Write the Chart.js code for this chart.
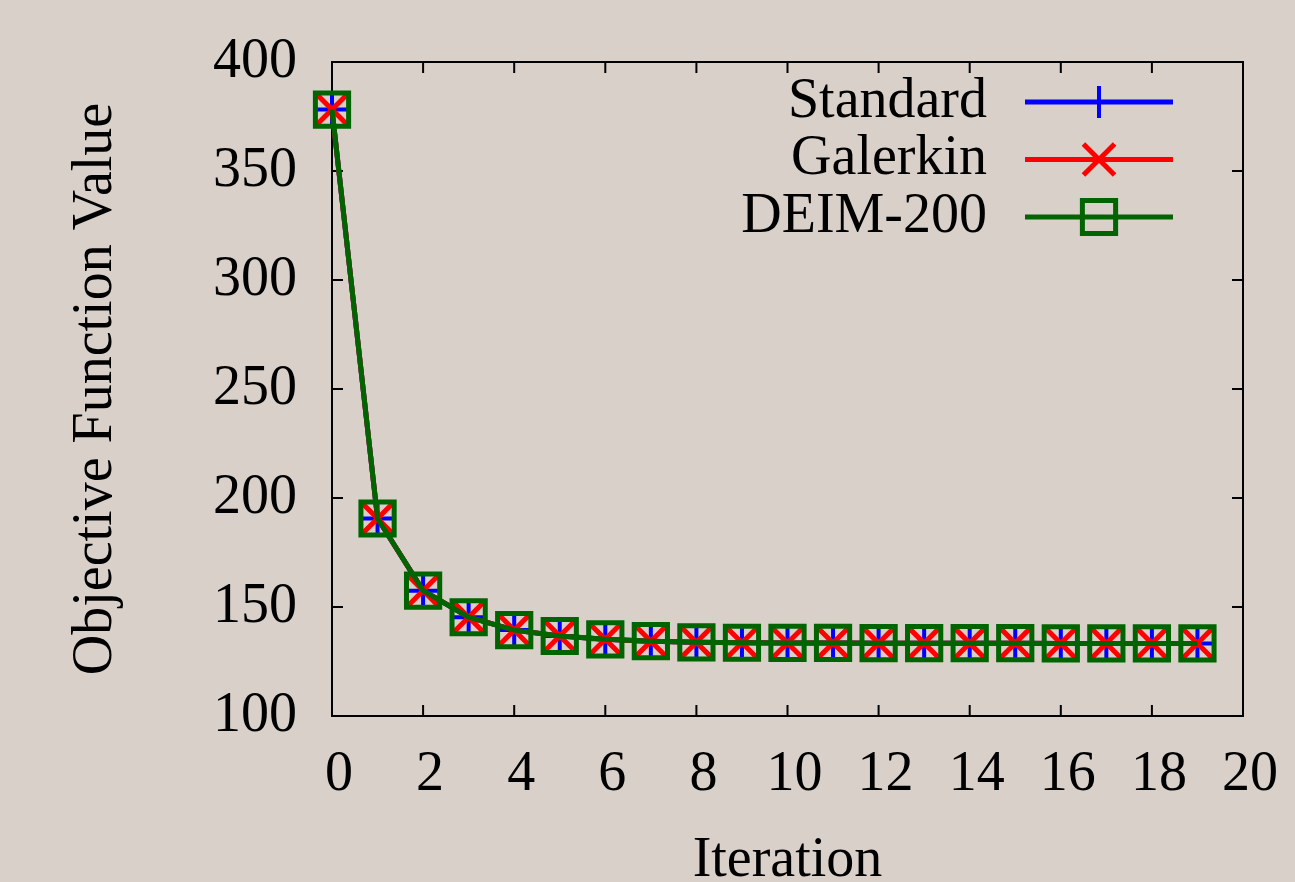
<!DOCTYPE html>
<html>
<head>
<meta charset="utf-8">
<script src="https://cdn.jsdelivr.net/npm/chart.js"></script>
<style>
  html, body { margin: 0; padding: 0; background: #d9d0ca; }
  #wrap { width: 1295px; height: 882px; position: relative; }
</style>
</head>
<body>
<div id="wrap"><canvas id="chart"></canvas></div>
<script>
const iterations = [0, 1, 2, 3, 4, 5, 6, 7, 8, 9, 10, 11, 12, 13, 14, 15, 16, 17, 18, 19];
const standardValues = [378.2, 190.6, 157.5, 145.3, 139.4, 136.7, 135.2, 134.3, 133.8, 133.6, 133.5, 133.5, 133.4, 133.4, 133.4, 133.4, 133.3, 133.3, 133.3, 133.3];
const galerkinValues = [378.2, 190.6, 157.5, 145.3, 139.4, 136.7, 135.2, 134.3, 133.8, 133.6, 133.5, 133.5, 133.4, 133.4, 133.4, 133.4, 133.3, 133.3, 133.3, 133.3];
const deimValues = [378.2, 190.6, 157.5, 145.3, 139.4, 136.7, 135.2, 134.3, 133.8, 133.6, 133.5, 133.5, 133.4, 133.4, 133.4, 133.4, 133.3, 133.3, 133.3, 133.3];
const seriesNames = ['Standard', 'Galerkin', 'DEIM-200'];
const xTicks = [0, 2, 4, 6, 8, 10, 12, 14, 16, 18, 20];
const yTicks = [100, 150, 200, 250, 300, 350, 400];

const FONT = 'Liberation Serif, Times New Roman, serif';

function toPoints(values) {
    return values.map((v, i) => ({ x: iterations[i], y: v }));
}

// box border and inward ticks, like gnuplot
const frame = {
    id: 'frame',
    beforeDatasetsDraw(chart) {
        const { ctx, chartArea: a, scales: { x, y } } = chart;
        ctx.save();
        ctx.strokeStyle = '#000';
        ctx.lineWidth = 2;
        ctx.strokeRect(a.left, a.top, a.right - a.left, a.bottom - a.top);
        ctx.beginPath();
        xTicks.forEach(t => {
            const px = x.getPixelForValue(t);
            ctx.moveTo(px, a.bottom); ctx.lineTo(px, a.bottom - 11);
            ctx.moveTo(px, a.top); ctx.lineTo(px, a.top + 11);
        });
        yTicks.forEach(t => {
            const py = y.getPixelForValue(t);
            ctx.moveTo(a.left, py); ctx.lineTo(a.left + 11, py);
            ctx.moveTo(a.right, py); ctx.lineTo(a.right - 11, py);
        });
        ctx.stroke();
        ctx.restore();
    }
};

// legend: text on the left, sample line with marker on the right
const keyBox = {
    id: 'keyBox',
    afterDatasetsDraw(chart) {
        const { ctx, chartArea: a } = chart;
        ctx.save();
        chart.data.datasets.forEach((ds, i) => {
            const yy = a.top + 40 + i * 57.5;
            ctx.fillStyle = '#000';
            ctx.font = '56px ' + FONT;
            ctx.textAlign = 'right';
            ctx.textBaseline = 'middle';
            ctx.fillText(ds.label, a.right - 256, yy);
            ctx.strokeStyle = ds.borderColor;
            ctx.lineWidth = ds.borderWidth;
            ctx.beginPath();
            ctx.moveTo(a.right - 218, yy);
            ctx.lineTo(a.right - 70, yy);
            ctx.stroke();
            ctx.lineWidth = ds.pointBorderWidth;
            ctx.fillStyle = 'rgba(0,0,0,0)';
            Chart.helpers.drawPoint(ctx, {
                pointStyle: ds.pointStyle,
                radius: ds.pointRadius,
                rotation: 0,
                borderWidth: ds.pointBorderWidth
            }, a.right - 144, yy);
        });
        ctx.restore();
    }
};

new Chart(document.getElementById('chart'), {
    type: 'line',
    data: {
        datasets: [
            {
                label: seriesNames[0],
                data: toPoints(standardValues),
                borderColor: '#0000ff',
                borderWidth: 5,
                pointStyle: 'cross',
                pointRadius: 16,
                pointBorderWidth: 4,
                pointBorderColor: '#0000ff',
                pointBackgroundColor: 'rgba(0,0,0,0)',
                clip: false,
                order: 3
            },
            {
                label: seriesNames[1],
                data: toPoints(galerkinValues),
                borderColor: '#ff0000',
                borderWidth: 5,
                pointStyle: 'crossRot',
                pointRadius: 22,
                pointBorderWidth: 5,
                pointBorderColor: '#ff0000',
                pointBackgroundColor: 'rgba(0,0,0,0)',
                clip: false,
                order: 2
            },
            {
                label: seriesNames[2],
                data: toPoints(deimValues),
                borderColor: '#006400',
                borderWidth: 5,
                pointStyle: 'rect',
                pointRadius: 23.5,
                pointBorderWidth: 5,
                pointBorderColor: '#006400',
                pointBackgroundColor: 'rgba(0,0,0,0)',
                clip: false,
                order: 1
            }
        ]
    },
    options: {
        responsive: true,
        maintainAspectRatio: false,
        animation: false,
        layout: { padding: { top: 62, right: 52, left: 0, bottom: 0 } },
        plugins: {
            legend: { display: false },
            tooltip: { enabled: false }
        },
        scales: {
            x: {
                type: 'linear',
                min: 0,
                max: 20,
                afterFit: s => {
                    s.height = 166;
                    s.paddingLeft = 0;
                    s.paddingRight = 0;
                },
                afterBuildTicks: s => { s.ticks = xTicks.map(v => ({ value: v })); },
                grid: { display: false, drawTicks: false },
                border: { display: false },
                ticks: {
                    autoSkip: false,
                    maxRotation: 0,
                    padding: 26,
                    labelOffset: 7,
                    color: '#000',
                    font: { family: FONT, size: 56 }
                },
                title: {
                    display: true,
                    text: 'Iteration',
                    color: '#000',
                    font: { family: FONT, size: 56, lineHeight: 1 },
                    padding: { top: 0, bottom: -7 }
                }
            },
            y: {
                min: 100,
                max: 400,
                afterFit: s => {
                    s.width = 332;
                    s.paddingTop = 0;
                    s.paddingBottom = 0;
                },
                afterBuildTicks: s => { s.ticks = yTicks.map(v => ({ value: v })); },
                grid: { display: false, drawTicks: false },
                border: { display: false },
                ticks: {
                    padding: 35,
                    color: '#000',
                    font: { family: FONT, size: 56 }
                },
                title: {
                    display: true,
                    text: 'Objective Function Value',
                    color: '#000',
                    font: { family: FONT, size: 56, lineHeight: 1 },
                    padding: { top: 68, bottom: 0 }
                }
            }
        }
    },
    plugins: [frame, keyBox]
});
</script>
</body>
</html>
